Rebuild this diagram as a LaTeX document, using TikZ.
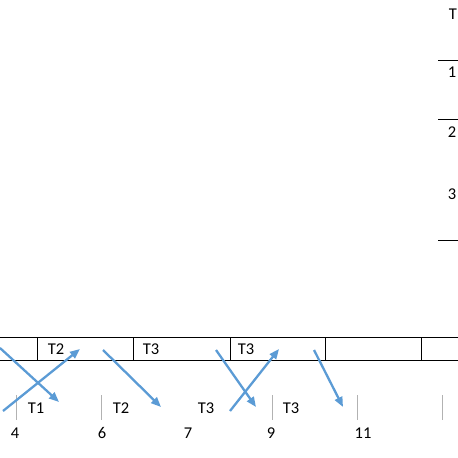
\documentclass[tikz,border=0pt]{standalone}
\usepackage{fontspec}
\setmainfont{Carlito}
\usepackage{tikz}
\usetikzlibrary{arrows.meta, positioning, calc}
\definecolor{flowblue}{RGB}{91,155,213}
\tikzset{
  lbl/.style={font=\fontsize{16.5}{18}\selectfont, inner sep=0pt},
  flow/.style={flowblue, line width=2.3pt, -{Triangle[length=10pt,width=8pt]}},
  tick/.style={gray!60, line width=0.6pt}
}

\begin{document}
\begin{tikzpicture}[x=1pt,y=-1pt]
  \useasboundingbox (0,0) rectangle (458,458);
  % right legend
  \node[lbl] (legT) at (453,14) {T};
  \node[lbl] (leg1) at (452,72) {1};
  \node[lbl] (leg2) at (452,132) {2};
  \node[lbl] (leg3) at (452,194) {3};
  \foreach \y in {60,119,240}
    \draw[line width=0.8pt] (438,\y) -- (458,\y);
  % slot row
  \draw[line width=0.8pt] (0,337) -- (458,337) (0,360) -- (458,360);
  \foreach \x in {37,133,230,325,421}
    \draw[line width=0.8pt] (\x,337) -- (\x,360);
  \node[lbl] (slotA) at (56,349) {T2};
  \node[lbl] (slotB) at (151,349) {T3};
  \node[lbl] (slotC) at (246,349) {T3};
  % time axis
  \foreach \x in {16,101,272,357,442}
    \draw[tick] (\x,395) -- (\x,420);
  \node[lbl] (runA) at (36,408) {T1};
  \node[lbl] (runB) at (121,408) {T2};
  \node[lbl] (runC) at (206,408) {T3};
  \node[lbl] (runD) at (291,408) {T3};
  \node[lbl] (t4) at (15,433) {4};
  \node[lbl] (t6) at (102,433) {6};
  \node[lbl] (t7) at (188,433) {7};
  \node[lbl] (t9) at (271,433) {9};
  \node[lbl] (t11) at (363,433) {11};
  % transfers
  \coordinate (a1) at (0,348);   \coordinate (b1) at (59,402);
  \coordinate (a2) at (3,411);   \coordinate (b2) at (80,349);
  \coordinate (a3) at (103,350); \coordinate (b3) at (161,407);
  \coordinate (a4) at (216,350); \coordinate (b4) at (256,407);
  \coordinate (a5) at (230,411); \coordinate (b5) at (279,349);
  \coordinate (a6) at (314,350); \coordinate (b6) at (343,407);
  \foreach \i in {1,...,6}
    \draw[flow] (a\i) -- (b\i);
\end{tikzpicture}
\end{document}
